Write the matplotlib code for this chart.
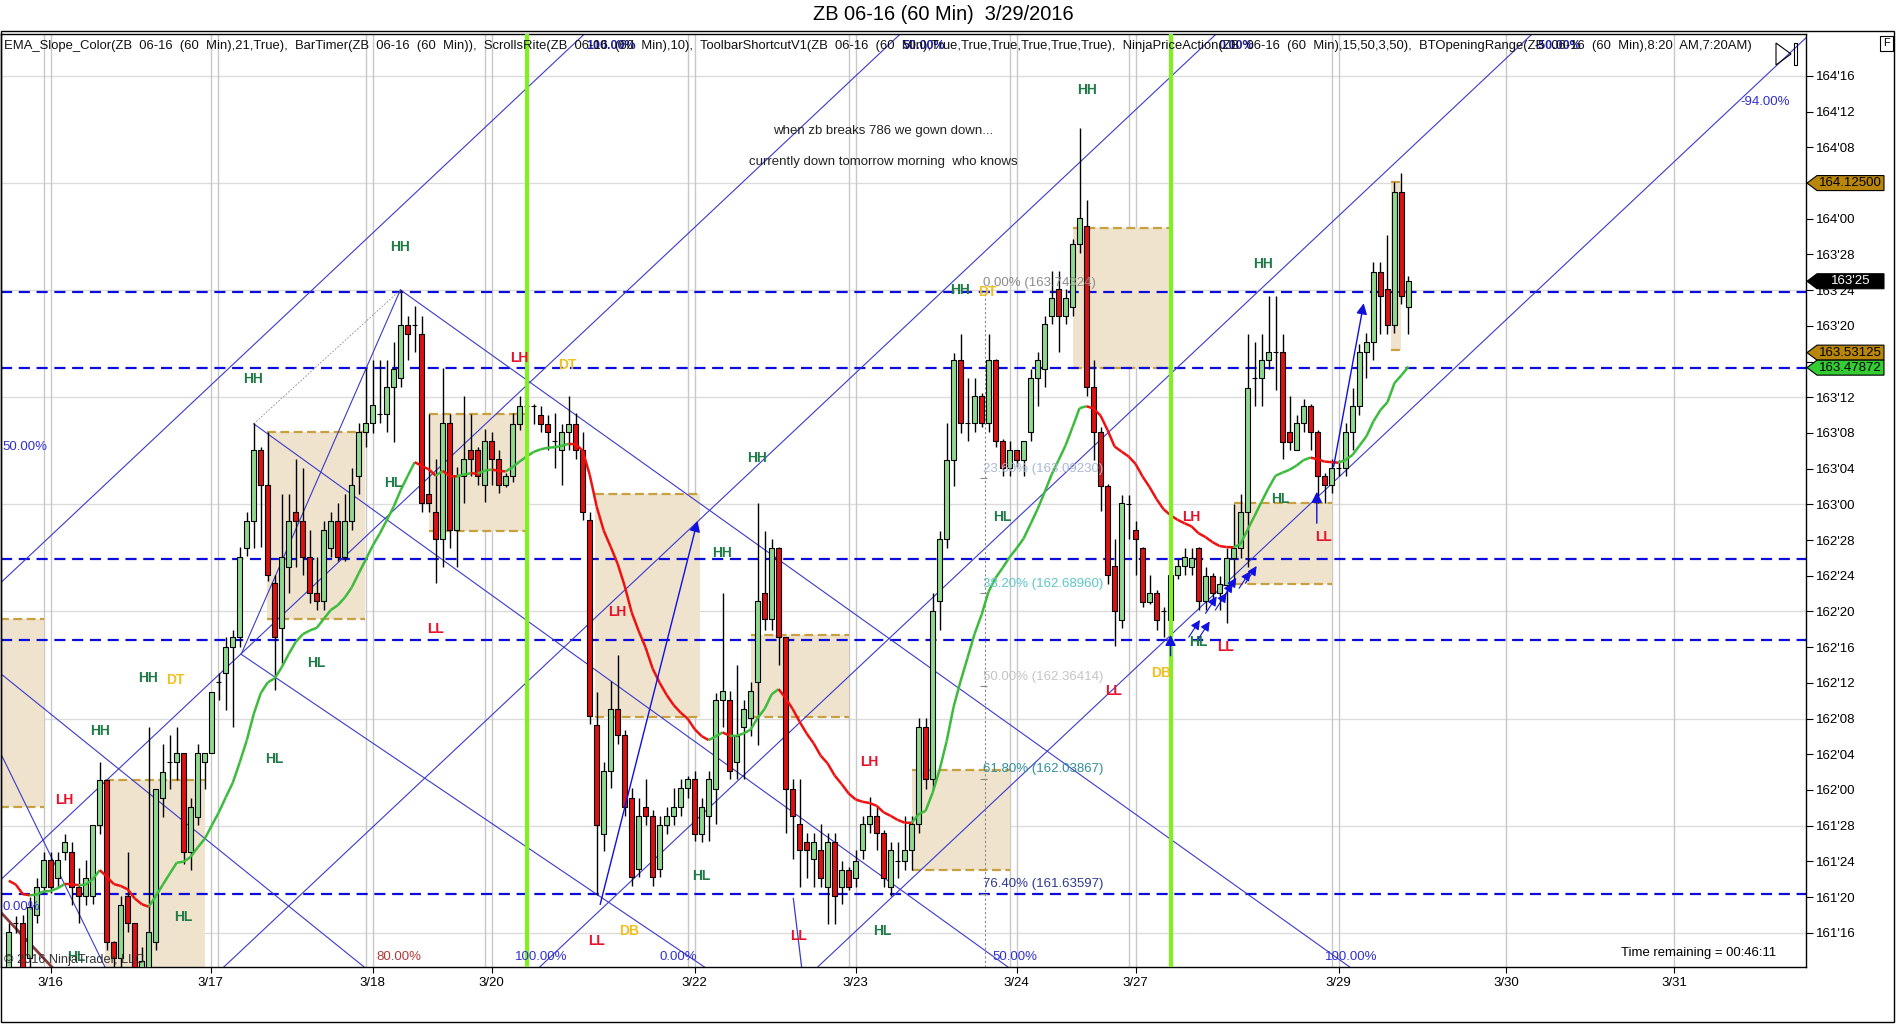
import numpy as np
import matplotlib
matplotlib.use("Agg")
import matplotlib.pyplot as plt
from matplotlib.patches import Rectangle, Polygon
from matplotlib.collections import LineCollection
from matplotlib.ticker import FixedLocator, FuncFormatter
import matplotlib.transforms as mtransforms

plt.rcParams['font.family'] = ['Liberation Sans', 'DejaVu Sans']

# =====================================
# Velas ZB 06-16 60 min (barra 1..201)
# =====================================
opens = [
    161.35, 161.535, 161.533, 161.41, 161.562, 161.661, 161.755, 161.691, 161.784, 161.784,
    161.661, 161.63, 161.63, 161.877, 162.035, 161.469, 161.411, 161.63, 161.533, 161.30,
    161.35, 161.469, 161.971, 162.097, 162.097, 162.128, 161.784, 161.906, 162.097, 162.128,
    162.377, 162.408, 162.502,
    162.537, 162.847, 162.94, 163.191, 163.068, 162.724, 162.567, 162.782, 162.973, 162.94,
    162.815, 162.689, 162.66, 162.847, 162.94, 162.815, 162.94, 163.098, 163.253, 163.284,
    163.316, 163.316, 163.41, 163.442, 163.628, 163.628, 163.597, 163.037, 162.973, 162.878,
    163.284, 162.911, 163.098, 163.191, 163.191,
    163.068, 163.221, 163.16, 163.068, 163.099, 163.283, 163.344, 163.344, 163.313, 163.283,
    163.221, 163.191, 163.252, 163.283, 163.191, 162.945, 162.227, 161.847, 162.068, 162.283,
    162.194, 161.972, 161.724, 161.942, 161.908, 161.724, 161.878, 161.908, 161.942, 162.007,
    162.037, 161.847, 161.91,
    162.004, 162.314, 162.314, 162.098, 162.22, 162.251, 162.378, 162.689, 162.597, 162.847,
    162.534, 162.004, 161.879, 161.818, 161.758, 161.788, 161.66, 161.818, 161.66, 161.721,
    161.691, 161.788, 161.879, 161.91, 161.849, 161.66, 161.752, 161.752, 161.788, 161.879,
    162.22, 162.038, 162.661, 162.877,
    163.157, 163.504, 163.284, 163.284, 163.38, 163.284, 163.504, 163.222, 163.127, 163.19,
    163.157, 163.254, 163.442, 163.474, 163.66, 163.753, 163.66, 163.691, 163.911, 163.973,
    163.41, 163.254, 163.066, 162.784, 162.596, 163.0, 162.911, 162.846, 162.658, 162.691,
    162.628, 162.596, 162.753, 162.784,
    162.782, 162.847, 162.66, 162.75, 162.69, 162.718, 162.812, 162.847, 162.973, 163.442,
    163.442, 163.506, 163.535, 163.535, 163.252, 163.19, 163.284, 163.346, 163.252, 163.1,
    163.068, 163.127, 163.127, 163.252, 163.346, 163.535, 163.567, 163.815, 163.753, 163.628,
    164.095, 163.692,
]
highs = [
    161.533, 161.56, 161.562, 161.626, 161.691, 161.784, 161.784, 161.784, 161.846, 161.817,
    161.725, 161.755, 161.877, 162.097, 162.035, 161.47, 161.63, 161.784, 161.533, 161.45,
    162.222, 162.002, 162.161, 162.192, 162.222, 162.13, 161.971, 162.161, 162.13, 162.344,
    162.408, 162.534, 162.56,
    162.85, 162.973, 163.284, 163.2, 163.253, 162.753, 163.037, 163.037, 163.159, 163.127,
    162.911, 162.815, 162.94, 162.973, 163.004, 163.037, 163.127, 163.284, 163.477, 163.506,
    163.506, 163.506, 163.57, 163.751, 163.66, 163.693, 163.66, 163.317, 163.159, 163.477,
    163.317, 163.13, 163.38, 163.317, 163.2,
    163.264, 163.252, 163.19, 163.11, 163.319, 163.381, 163.37, 163.35, 163.344, 163.313,
    163.319, 163.283, 163.381, 163.319, 163.252, 162.972, 162.344, 162.099, 162.381, 162.473,
    162.21, 162.007, 161.972, 162.037, 161.93, 161.908, 161.942, 162.007, 162.037, 162.05,
    162.068, 161.972, 162.068,
    162.34, 162.689, 162.345, 162.439, 162.314, 162.378, 163.005, 162.908, 162.877, 162.85,
    162.534, 162.038, 162.038, 161.849, 161.849, 161.879, 161.849, 161.849, 161.752, 161.73,
    161.788, 161.91, 161.977, 161.94, 161.86, 161.818, 161.818, 161.91, 161.91, 162.251,
    162.251, 162.689, 162.908, 163.285,
    163.53, 163.597, 163.442, 163.442, 163.39, 163.597, 163.51, 163.23, 163.222, 163.19,
    163.222, 163.474, 163.535, 163.66, 163.817, 163.817, 163.753, 163.93, 164.319, 164.066,
    163.504, 163.27, 163.07, 162.878, 163.034, 163.034, 162.943, 162.85, 162.753, 162.70,
    162.64, 162.753, 162.81, 162.846,
    162.846, 162.85, 162.78, 162.76, 162.75, 162.847, 163.0, 163.036, 163.597, 163.567,
    163.597, 163.728, 163.728, 163.597, 163.378, 163.313, 163.37, 163.35, 163.26, 163.11,
    163.16, 163.157, 163.284, 163.409, 163.56, 163.6, 163.847, 163.847, 163.944, 164.13,
    164.16, 163.8,
]
lows = [
    161.30, 161.50, 161.28, 161.38, 161.533, 161.64, 161.64, 161.661, 161.755, 161.597,
    161.533, 161.597, 161.6, 161.846, 161.44, 161.36, 161.36, 161.502, 161.25, 161.25,
    161.30, 161.44, 161.906, 162.002, 162.035, 161.74, 161.72, 161.877, 162.002, 162.128,
    162.315, 162.28, 162.222,
    162.50, 162.82, 162.847, 162.85, 162.73, 162.351, 162.444, 162.689, 162.782, 162.753,
    162.654, 162.631, 162.631, 162.815, 162.8, 162.8, 162.911, 163.037, 163.2, 163.25,
    163.284, 163.253, 163.22, 163.41, 163.506, 163.535, 162.973, 162.973, 162.724, 162.782,
    162.847, 162.782, 163.004, 163.098, 163.068,
    163.007, 163.068, 163.04, 163.06, 163.08, 163.26, 163.3, 163.283, 163.252, 163.191,
    163.129, 163.068, 163.191, 163.16, 162.945, 162.23, 161.632, 161.786, 162.007, 162.16,
    161.908, 161.663, 161.694, 161.878, 161.663, 161.694, 161.847, 161.878, 161.908, 161.972,
    161.82, 161.816, 161.82,
    161.879, 162.22, 162.038, 162.038, 162.038, 162.19, 162.159, 162.561, 162.561, 162.439,
    161.849, 161.758, 161.66, 161.69, 161.66, 161.66, 161.532, 161.532, 161.599, 161.65,
    161.66, 161.758, 161.849, 161.788, 161.66, 161.63, 161.691, 161.721, 161.721, 161.849,
    162.004, 162.004, 162.561, 162.847,
    163.066, 163.25, 163.222, 163.254, 163.27, 163.254, 163.2, 163.099, 163.099, 163.13,
    163.099, 163.222, 163.345, 163.41, 163.63, 163.535, 163.63, 163.66, 163.88, 163.38,
    163.157, 162.976, 162.72, 162.503, 162.568, 162.88, 162.753, 162.64, 162.65, 162.56,
    162.535, 162.55, 162.74, 162.753,
    162.753, 162.63, 162.63, 162.66, 162.63, 162.584, 162.718, 162.812, 162.782, 163.346,
    163.346, 163.473, 163.40, 163.16, 163.19, 163.19, 163.252, 163.19, 163.004, 163.004,
    163.04, 163.1, 163.1, 163.19, 163.313, 163.442, 163.506, 163.597, 163.597, 163.6,
    163.7, 163.597,
]
closes = [
    161.502, 161.535, 161.30, 161.591, 161.661, 161.755, 161.661, 161.755, 161.817, 161.661,
    161.63, 161.691, 161.877, 162.035, 161.469, 161.411, 161.597, 161.533, 161.30, 161.40,
    161.502, 162.002, 162.064, 162.097, 162.128, 161.784, 161.939, 162.128, 162.128, 162.344,
    162.377, 162.502, 162.534,
    162.815, 162.94, 163.191, 163.068, 162.753, 162.537, 162.815, 162.94, 162.94, 162.815,
    162.689, 162.66, 162.911, 162.94, 162.815, 162.94, 163.068, 163.253, 163.284, 163.348,
    163.316, 163.41, 163.473, 163.628, 163.597, 163.628, 163.004, 163.004, 162.878, 163.284,
    162.911, 163.098, 163.159, 163.159, 163.098,
    163.221, 163.16, 163.068, 163.099, 163.283, 163.344, 163.344, 163.344, 163.283, 163.252,
    163.221, 163.252, 163.283, 163.191, 162.972, 162.258, 161.878, 162.068, 162.283, 162.194,
    161.942, 161.694, 161.908, 161.908, 161.694, 161.878, 161.908, 161.942, 162.007, 162.037,
    161.847, 161.942, 162.038,
    162.314, 162.345, 162.068, 162.19, 162.283, 162.345, 162.661, 162.597, 162.847, 162.534,
    162.004, 161.91, 161.788, 161.788, 161.818, 161.691, 161.818, 161.63, 161.721, 161.66,
    161.752, 161.879, 161.91, 161.849, 161.691, 161.788, 161.752, 161.788, 161.879, 162.22,
    162.038, 162.628, 162.877, 163.157,
    163.504, 163.284, 163.284, 163.38, 163.284, 163.504, 163.222, 163.127, 163.19, 163.157,
    163.222, 163.442, 163.504, 163.63, 163.724, 163.66, 163.724, 163.911, 164.001, 163.41,
    163.254, 163.066, 162.753, 162.628, 163.004, 163.0, 162.878, 162.658, 162.691, 162.596,
    162.628, 162.753, 162.784, 162.814,
    162.812, 162.66, 162.75, 162.69, 162.72, 162.812, 162.847, 162.973, 163.409, 163.442,
    163.506, 163.535, 163.535, 163.22, 163.22, 163.284, 163.346, 163.252, 163.1, 163.068,
    163.127, 163.127, 163.252, 163.346, 163.535, 163.567, 163.815, 163.728, 163.628, 164.095,
    163.728, 163.781,
]

EMA_SPAN = 21
EMA_SEED = 161.70

date_bars = [7, 29.85, 53, 70, 99, 122, 145, 162, 191, 215, 239]
date_labels = ['3/16', '3/17', '3/18', '3/20', '3/22', '3/23', '3/24', '3/27', '3/29', '3/30', '3/31']
session_bars = [6, 30.85, 52, 69, 98, 121, 144, 161, 190]
green_vlines = [75, 167]

hlines_blue = [163.74324, 163.47872, 162.81, 162.525, 161.63597]

fib_pcts = [0.0, 23.6, 38.2, 50.0, 61.8, 76.4]
fib_prices = [163.74324, 163.09230, 162.68960, 162.36414, 162.03867, 161.63597]
fib_colors = ['#8c8c8c', '#a9b9d3', '#5cc6c9', '#c4c4c4', '#2f8f9c', '#2c3a8c']
fib_bar = 140.5

# opening range boxes: (bar ini, bar fin, top, bottom)
box_x0 = [-0.2, 14.8, 37.9, 61.0, 84.7, 107.0, 130.0, 153.1, 176.0, 198.5]
box_x1 = [6.0, 29.0, 51.9, 74.7, 99.8, 121.0, 144.0, 166.8, 190.0, 200.0]
box_top = [162.597, 162.035, 163.252, 163.318, 163.036, 162.541, 162.07, 163.968, 163.004, 164.129]
box_bot = [161.942, 161.20, 162.597, 162.907, 162.257, 162.256, 161.72, 163.478, 162.721, 163.54]

# canal ascendente: precio en la barra 0 y pendiente por barra
chan_pcts = ['100.00%', '50.00%', '0.00%', '-50.00%', '-94.00%']
chan_p0 = [162.729, 161.689, 160.649, 159.609, 158.694]
chan_slope = 0.02304

# líneas descendentes: (barra, precio, pendiente)
down_bar = [56.96, 36.0, -0.2, 34.2, -0.2]
down_price = [163.751, 163.282, 162.408, 162.475, 162.13]
down_slope = [-0.01748, -0.01765, -0.01978, -0.01654, -0.0502]

# etiquetas de swing
swing_text = ['HH', 'HH', 'HL', 'LH', 'DT', 'LL', 'HL', 'HH', 'DT', 'HH', 'HL', 'LH', 'HL', 'HL',
              'LH', 'LL', 'DB', 'HH', 'HH', 'HH', 'DT', 'HL', 'HH', 'HL', 'LH', 'LL', 'HL',
              'LH', 'LL', 'DB', 'HL', 'LL', 'HH', 'HL', 'LL']
swing_bar = [56.96, 35.96, 55.9, 73.87, 80.86, 61.9, 45.0, 20.93, 24.77, 13.99, 39.0, 8.97, 25.94, 10.6,
             87.97, 84.96, 89.6, 155.1, 107.9, 136.9, 140.8, 142.9, 102.9, 99.9, 123.9, 113.8, 125.8,
             169.9, 158.9, 165.6, 170.9, 174.8, 180.2, 182.7, 188.9]
swing_price = [163.90, 163.438, 163.076, 163.511, 163.489, 162.564, 162.446, 162.393, 162.386, 162.208,
               162.109, 161.964, 161.554, 161.416, 162.623, 161.471, 161.505, 164.45, 163.163, 163.751,
               163.744, 162.957, 162.828, 161.698, 162.097, 161.487, 161.505, 162.957, 162.348, 162.408,
               162.519, 162.501, 163.84, 163.019, 162.886]

bottom_pct_text = ['80.00%', '100.00%', '0.00%', '50.00%', '100.00%']
bottom_pct_bar = [56.7, 77.1, 96.7, 144.8, 192.8]

small_arrow_bar = [171.2, 172.6, 173.6, 175.0, 175.9, 176.4, 178.4, 179.3]
small_arrow_price = [162.595, 162.59, 162.678, 162.69, 162.725, 162.743, 162.766, 162.784]

header = ("EMA_Slope_Color(ZB  06-16  (60  Min),21,True),  BarTimer(ZB  06-16  (60  Min)),  "
          "ScrollsRite(ZB  06-16  (60  Min),10),  ToolbarShortcutV1(ZB  06-16  (60  Min),True,True,True,True,True,True),  "
          "NinjaPriceAction(ZB  06-16  (60  Min),15,50,3,50),  BTOpeningRange(ZB  06-16  (60  Min),8:20  AM,7:20AM)")

# =====================================
# Colores
# =====================================
VERDE_VELA = '#8fd98f'
ROJO_VELA = '#dd1111'
AZUL_DASH = '#0c0cdc'
AZUL_FINO = '#3a3acc'
VERDE_EMA = '#3dbb3d'
ROJO_EMA = '#ee1111'
VERDE_LIM = '#80f020'
C_HH = '#1e7a46'
C_LL = '#e8102a'
C_DT = '#f0c020'
TAN = '#efe3cd'
DORADO = '#c8a040'

W, H = 1896, 1024
fig = plt.figure(figsize=(W / 100, H / 100), dpi=100)
fig.patch.set_facecolor('white')
ax = fig.add_axes([0.5 / W, 1 - 967 / H, 1805.5 / W, (967 - 34) / H])

n = len(closes)
bars = np.arange(1, n + 1)
o = np.array(opens); h = np.array(highs); l = np.array(lows); c = np.array(closes)

XMIN, XMAX = -0.186, 257.8
YMIN, YMAX = 161.380, 164.647
ax.set_xlim(XMIN, XMAX)
ax.set_ylim(YMIN, YMAX)

# grid
for p in np.arange(161.5, 164.51, 0.375):
    ax.axhline(p, color='#dcdcdc', lw=1, zorder=0.5)
for b in date_bars + session_bars:
    ax.axvline(b, color='#c8c8c8', lw=1, zorder=0.5)

# cajas opening range
for x0, x1, t, bt in zip(box_x0, box_x1, box_top, box_bot):
    ax.add_patch(Rectangle((x0, bt), x1 - x0, t - bt, facecolor=TAN, edgecolor='none', zorder=1))
    ax.hlines([t, bt], x0, x1, colors=DORADO, lw=1.6, linestyles=(0, (4, 2)), zorder=1.2)

# líneas horizontales azules
for p in hlines_blue:
    ax.axhline(p, color=AZUL_DASH, lw=1.6, linestyle=(0, (5, 3)), zorder=2)

# canal ascendente
xx = np.array([XMIN - 5, XMAX + 5])
for p0 in chan_p0:
    ax.plot(xx, p0 + chan_slope * xx, color=AZUL_FINO, lw=0.8, zorder=2.5)

# líneas descendentes
for b0, p0, s in zip(down_bar, down_price, down_slope):
    xs = np.array([b0, XMAX + 5])
    ax.plot(xs, p0 + s * (xs - b0), color=AZUL_FINO, lw=0.8, zorder=2.5)

# horquilla / extras
ax.plot([34.2, 56.96], [162.475, 163.751], color=AZUL_FINO, lw=0.8, zorder=2.5)
ax.plot([36.0, 56.96], [163.282, 163.751], color='#888888', lw=0.6, linestyle=(0, (2, 2)), zorder=2.5)
ax.plot([-0.2, 14.0], [161.573, 161.20], color='#8b3a3a', lw=2, zorder=2.5)
ax.plot([113.1, 114.3], [161.62, 161.377], color=AZUL_FINO, lw=0.9, zorder=2.5)

# fibonacci
ax.vlines(fib_bar, YMIN, fib_prices[0], colors='#888888', lw=0.8, linestyles=(0, (2, 2)), zorder=2.6)
for pct, p, col in zip(fib_pcts, fib_prices, fib_colors):
    ax.hlines(p, fib_bar - 0.7, fib_bar + 0.3, colors='#888888', lw=0.8, zorder=2.6)
    ax.text(fib_bar - 0.3, p + 0.012, f"{pct:.2f}% ({p:.5f})", color=col, fontsize=9.5,
            ha='left', va='bottom', zorder=6)

# velas
up = c >= o
ax.vlines(bars, l, h, colors='black', lw=1, zorder=3)
body_h = np.where(np.abs(c - o) < 1e-6, 0.0, c - o)
ax.bar(bars, body_h, bottom=o, width=0.66, color=np.where(up, VERDE_VELA, ROJO_VELA),
       edgecolor='black', linewidth=0.8, zorder=3.2)

# EMA con color según pendiente
alpha = 2.0 / (EMA_SPAN + 1)
ema = []
e = EMA_SEED
for v in closes:
    e = e + alpha * (v - e)
    ema.append(e)
ema = np.array(ema)
segs = [[(bars[i - 1], ema[i - 1]), (bars[i], ema[i])] for i in range(1, n)]
cols = [VERDE_EMA if ema[i] >= ema[i - 1] else ROJO_EMA for i in range(1, n)]
ax.add_collection(LineCollection(segs, colors=cols, linewidths=1.8, zorder=4))

# líneas verdes verticales
for b in green_vlines:
    ax.axvline(b, color=VERDE_LIM, lw=3, zorder=5)

# etiquetas swing
for t, b, p in zip(swing_text, swing_bar, swing_price):
    col = C_HH if t in ('HH', 'HL') else (C_LL if t in ('LH', 'LL') else C_DT)
    ax.text(b, p, t, color=col, fontsize=10, fontweight='bold', ha='center', va='center', zorder=6)

# flechas azules
arrow_kw = dict(arrowstyle='-|>', color='#1010e0', lw=1, mutation_scale=16, shrinkA=0, shrinkB=0)
ax.annotate('', xy=(99.4, 162.942), xytext=(85.5, 161.599), arrowprops=arrow_kw, zorder=6)
ax.annotate('', xy=(194.6, 163.704), xytext=(190.3, 163.132), arrowprops=arrow_kw, zorder=6)
ax.annotate('', xy=(187.9, 163.044), xytext=(187.9, 162.934), arrowprops=arrow_kw, zorder=6)
ax.annotate('', xy=(167.0, 162.543), xytext=(167.0, 162.47), arrowprops=arrow_kw, zorder=6)
for b, p in zip(small_arrow_bar, small_arrow_price):
    ax.annotate('', xy=(b, p), xytext=(b - 1.6, p - 0.06),
                arrowprops=dict(arrowstyle='-|>', color='#1010e0', lw=0.8, mutation_scale=14,
                                shrinkA=0, shrinkB=0), zorder=6)

# etiquetas de porcentaje
AZUL_PCT = '#3030d0'
for t, b in zip(bottom_pct_text, bottom_pct_bar):
    ax.text(b, 161.415, t, color='#b03a3a' if t == '80.00%' else AZUL_PCT, fontsize=9.5,
            ha='center', va='center', zorder=6)
ax.text(0.1, 163.201, '50.00%', color=AZUL_PCT, fontsize=9.5, ha='left', va='center', zorder=6)
ax.text(0.1, 161.59, '0.00%', color=AZUL_PCT, fontsize=9.5, ha='left', va='center', zorder=6)
ax.text(252, 164.41, chan_pcts[4], color=AZUL_PCT, fontsize=9.5, ha='center', va='center', zorder=6)
top_p = 164.605
for t, p0 in zip(chan_pcts[:4], chan_p0[:4]):
    bx = (YMAX - p0) / chan_slope
    ax.text(bx + 0.3, top_p, t, color='#2020a0', fontsize=9, fontweight='bold',
            ha='left', va='center', zorder=7)

# comentarios
ax.text(125.96, 164.306, 'when zb breaks 786 we gown down...', fontsize=9.5, color='#222222',
        ha='center', va='center', zorder=6)
ax.text(125.96, 164.199, 'currently down tomorrow morning  who knows', fontsize=9.5, color='#222222',
        ha='center', va='center', zorder=6)

# ejes
ax.yaxis.tick_right()
yt = np.arange(161.5, 164.51, 0.125)
ax.yaxis.set_major_locator(FixedLocator(yt))
ax.yaxis.set_major_formatter(FuncFormatter(lambda p, _: f"{int(p)}'{int(round((p - int(p)) * 32)):02d}"))
ax.set_xticks(date_bars)
ax.set_xticklabels(date_labels)
ax.tick_params(axis='y', direction='out', length=5, pad=2, labelsize=9.5, width=0.8)
ax.tick_params(axis='x', direction='out', length=4, pad=3, labelsize=9.5, width=0.8)
for sp in ax.spines.values():
    sp.set_linewidth(1)
    sp.set_color('black')

# etiquetas de precio a la derecha
trans = mtransforms.blended_transform_factory(ax.transAxes, ax.transData)
def tag(price, text, fc, tc):
    hh = 7.5 / 285.6
    x0, x1, x2 = 1807 / 1806, 1817 / 1806, 1884 / 1806
    ax.add_patch(Polygon([(x0, price), (x1, price + hh), (x2, price + hh), (x2, price - hh), (x1, price - hh)],
                         closed=True, transform=trans, facecolor=fc, edgecolor='black', lw=0.8,
                         clip_on=False, zorder=10))
    ax.text((x1 + x2) / 2, price, text, transform=trans, ha='center', va='center', color=tc,
            fontsize=9.5, clip_on=False, zorder=11)

tag(164.125, '164.12500', '#b8860b', 'black')
tag(163.78125, "163'25", 'black', 'white')
tag(163.53125, '163.53125', '#b8860b', 'black')
tag(163.47872, '163.47872', '#33cc33', 'black')

# textos de figura
def fx(x):
    return x / W
def fy(y):
    return 1 - y / H

title = fig.text(fx(943), fy(15), 'ZB 06-16 (60 Min)  3/29/2016', ha='center', va='center', fontsize=13)
hdr = fig.text(fx(4), fy(46), header, ha='left', va='center', fontsize=8.5, color='#111111')
tr = fig.text(fx(1776), fy(953), 'Time remaining = 00:46:11', ha='right', va='center', fontsize=9.5)
cp = fig.text(fx(4), fy(960), '\u00a9 2016 NinjaTrader, LLC', ha='left', va='center', fontsize=9.5, color='#333333')

fig.canvas.draw()
for t, target in [(title, 262), (hdr, 1743), (tr, 155), (cp, 141)]:
    w = t.get_window_extent().width
    t.set_fontsize(t.get_fontsize() * target / w)

# marco del panel, botón F y marcador
fig.add_artist(Rectangle((fx(1), fy(1022)), 1893 / W, (1022 - 31) / H, transform=fig.transFigure,
                         fill=False, edgecolor='black', lw=1))
fig.add_artist(Rectangle((fx(1880), fy(51)), 13 / W, 15 / H, transform=fig.transFigure,
                         fill=False, edgecolor='black', lw=0.8))
fig.text(fx(1886.5), fy(43.5), 'F', ha='center', va='center', fontsize=8)
fig.add_artist(Polygon([(fx(1776), fy(43)), (fx(1776), fy(65)), (fx(1791), fy(54))], closed=True,
                       transform=fig.transFigure, fill=False, edgecolor='black', lw=0.8))
fig.add_artist(Rectangle((fx(1794), fy(65)), 3 / W, 22 / H, transform=fig.transFigure,
                         fill=False, edgecolor='black', lw=0.8))

fig.savefig('out.png', dpi=100, facecolor='white')
